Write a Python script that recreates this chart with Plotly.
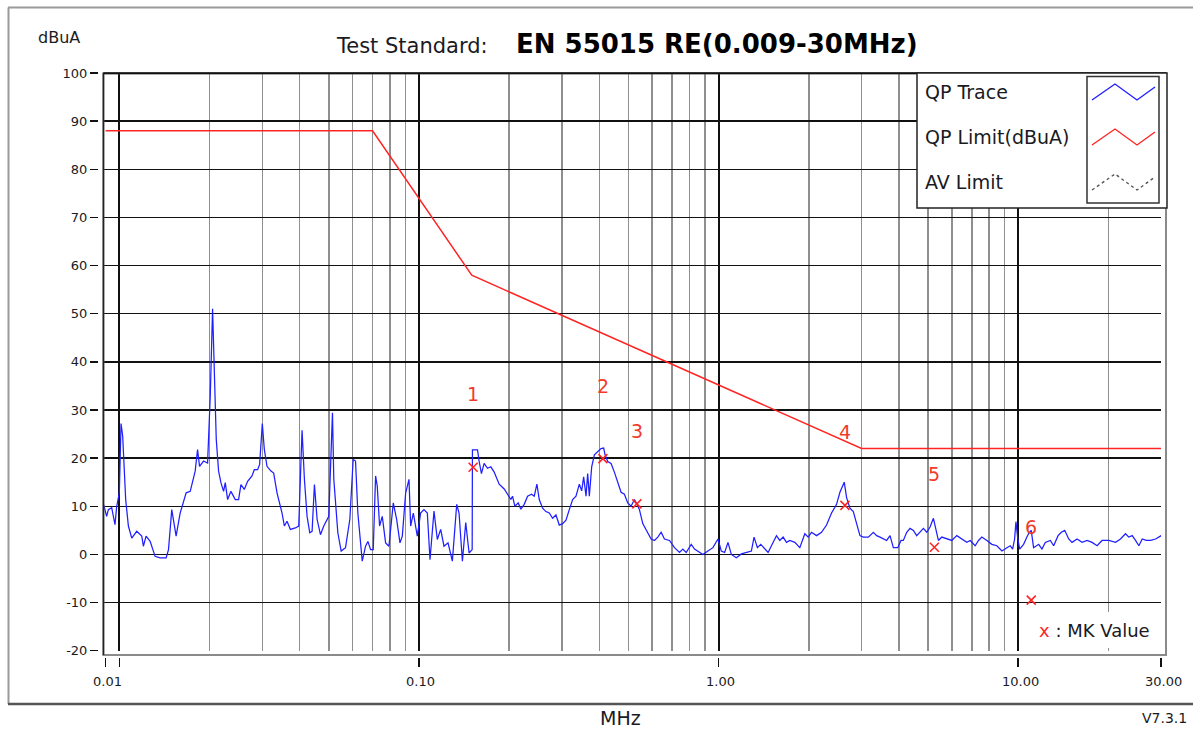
import numpy as np
import plotly.graph_objects as go

# ---------------- data ----------------
# QP trace, band A (9 kHz - 150 kHz)
qp_freq_a = [0.00884, 0.00907, 0.00919, 0.00943, 0.00967, 0.00980, 0.01000, 0.01013, 0.01026, 0.01037,
             0.01050, 0.01072, 0.01100, 0.01143, 0.01188, 0.01203, 0.01228, 0.01267, 0.01316, 0.01368,
             0.01433, 0.01459, 0.01496, 0.01547, 0.01596, 0.01671, 0.01724, 0.01791, 0.01824, 0.01852,
             0.01910, 0.01970, 0.02011, 0.02047, 0.02074, 0.02106, 0.02144, 0.02183, 0.02228, 0.02257,
             0.02298, 0.02357, 0.02437, 0.02500, 0.02546, 0.02612, 0.02680, 0.02771, 0.02821, 0.02894,
             0.02939, 0.03000, 0.03047, 0.03110, 0.03207, 0.03274, 0.03359, 0.03491, 0.03554, 0.03628,
             0.03723, 0.03868, 0.03969, 0.04020, 0.04072, 0.04146, 0.04232, 0.04320, 0.04398, 0.04478,
             0.04571, 0.04690, 0.04811, 0.05000, 0.05065, 0.05144, 0.05197, 0.05360, 0.05499, 0.05686,
             0.05879, 0.06031, 0.06141, 0.06252, 0.06465, 0.06633, 0.06753, 0.06894, 0.07037, 0.07164,
             0.07257, 0.07388, 0.07542, 0.07738, 0.07939, 0.08209, 0.08422, 0.08641, 0.08798, 0.09027,
             0.09261, 0.09381, 0.09575, 0.09873, 0.10129, 0.10392, 0.10663, 0.10884, 0.11223, 0.11515,
             0.11814, 0.12121, 0.12501, 0.12925, 0.13364, 0.13606, 0.13961, 0.14324, 0.14696, 0.1505]
qp_level_a = [10.6, 7.9, 9.3, 9.7, 6.2, 10.0, 12.8, 27.2, 24.6, 18.3,
              11.4, 5.9, 3.4, 4.8, 3.8, 1.7, 3.8, 2.7, -0.4, -0.7,
              -0.7, 1.0, 9.3, 3.8, 8.6, 12.8, 13.1, 17.3, 21.8, 18.3,
              19.4, 19.0, 32.9, 51.0, 36.3, 23.9, 17.3, 14.9, 13.1, 14.9,
              11.4, 13.1, 11.4, 11.4, 14.5, 13.5, 15.2, 16.3, 17.6, 17.6,
              18.7, 27.2, 21.8, 18.3, 17.3, 16.9, 12.8, 8.6, 5.9, 6.9,
              5.2, 5.5, 5.9, 15.6, 25.8, 15.6, 7.9, 4.5, 4.8, 14.5,
              7.3, 4.1, 5.9, 7.9, 19.0, 29.4, 15.6, 4.5, 0.7, 1.4,
              7.3, 19.7, 19.4, 8.6, -1.4, 1.7, 2.7, 1.0, 1.0, 16.3,
              14.2, 5.9, 7.9, 2.4, 1.7, 10.7, 7.3, 2.4, 3.8, 12.8,
              15.6, 5.9, 8.6, 3.8, 8.6, 9.3, 8.6, -1.1, 9.0, 3.1,
              5.2, 1.7, 2.4, -1.4, 10.4, 8.6, -1.4, 6.6, 0.3, 1.0]

# QP trace, band B (150 kHz - 3 MHz)
qp_freq_b = [0.1508, 0.1568, 0.1588, 0.1616, 0.1650, 0.1693, 0.1737, 0.1782, 0.1852, 0.1925,
             0.1975, 0.2026, 0.2052, 0.2090, 0.2144, 0.2188, 0.2245, 0.2304, 0.2376, 0.2425,
             0.2475, 0.2520, 0.2586, 0.2653, 0.2722, 0.2793, 0.2865, 0.2940, 0.3016, 0.3095,
             0.3175, 0.3257, 0.3342, 0.3429, 0.3491, 0.3545, 0.3610, 0.3656, 0.3703, 0.3771,
             0.3849, 0.3949, 0.4051, 0.4135, 0.4178, 0.4265, 0.4376, 0.4489, 0.4606, 0.4726,
             0.4848, 0.4974, 0.5104, 0.5236, 0.5345, 0.5442, 0.5583, 0.5728, 0.5953, 0.6108,
             0.6267, 0.6429, 0.6596, 0.6856, 0.7125, 0.7405, 0.7597, 0.7795, 0.8101, 0.8311,
             0.8527, 0.8862, 0.9210, 0.9572, 0.9951, 1.0210, 1.0475, 1.0748, 1.1027, 1.1460,
             1.1910, 1.2378, 1.2864, 1.3131, 1.3473, 1.3824, 1.4257, 1.4628, 1.5008, 1.5597,
             1.6003, 1.6419, 1.6846, 1.7284, 1.7962, 1.8667, 1.9399, 1.9904, 2.0421, 2.1224,
             2.2056, 2.2922, 2.3822, 2.4757, 2.540, 2.606, 2.626, 2.674, 2.744, 2.815,
             2.888, 2.963]
qp_level_b = [21.7, 21.7, 19.3, 16.8, 18.9, 17.9, 18.2, 17.1, 14.6, 13.6,
              12.5, 11.4, 12.1, 10.0, 10.7, 9.4, 10.4, 12.1, 12.5, 12.1,
              14.6, 11.4, 9.6, 8.9, 8.6, 7.5, 8.2, 6.1, 6.4, 7.1,
              9.3, 11.4, 12.1, 14.6, 13.2, 16.1, 12.1, 16.8, 12.1, 18.2,
              20.7, 21.3, 22.0, 22.1, 20.7, 19.3, 18.9, 17.1, 15.0, 12.9,
              12.5, 10.7, 10.0, 11.4, 10.4, 9.3, 6.4, 5.0, 3.2, 2.9,
              3.6, 4.6, 3.2, 2.9, 1.4, 0.4, 1.1, 0.4, 2.1, 1.1,
              0.7, 0.0, 0.7, 1.4, 3.2, 0.7, 0.4, 2.5, 0.0, -0.7,
              0.1, 0.4, 0.7, 3.6, 1.4, 2.1, 1.1, 0.4, 1.8, 3.9,
              2.9, 3.6, 2.5, 2.9, 2.5, 1.4, 4.3, 3.6, 4.6, 3.9,
              4.6, 6.1, 8.6, 10.4, 12.9, 14.6, 15.0, 11.8, 9.6, 8.9,
              6.4, 3.9]

# QP trace, band C (3 MHz - 30 MHz)
qp_freq_c = [3.041, 3.160, 3.284, 3.369, 3.457, 3.546, 3.638, 3.733, 3.830, 3.960,
             4.063, 4.136, 4.244, 4.354, 4.467, 4.583, 4.702, 4.824, 4.950, 5.078,
             5.210, 5.305, 5.415, 5.556, 5.774, 6.001, 6.236, 6.481, 6.736, 6.911,
             7.182, 7.369, 7.561, 7.858, 8.166, 8.487, 8.820, 9.167, 9.405, 9.576,
             9.725, 9.825, 9.951, 10.11, 10.42, 10.69, 10.89, 11.05, 11.25, 11.70,
             12.00, 12.31, 12.80, 13.13, 13.58, 13.93, 14.29, 14.74, 15.12, 15.72,
             16.33, 16.97, 17.64, 18.33, 19.05, 20.06, 21.12, 21.94, 22.80, 23.39,
             24.00, 24.63, 25.27, 25.93, 26.74, 27.65, 28.73, 30.00]
qp_level_c = [3.6, 3.6, 4.6, 3.9, 3.6, 3.2, 2.9, 3.9, 1.4, 1.4,
              2.9, 2.9, 4.6, 5.4, 5.0, 3.9, 4.6, 5.4, 4.6, 5.7,
              7.5, 5.4, 2.9, 3.6, 3.2, 2.9, 3.9, 3.2, 2.5, 2.9,
              1.8, 2.9, 3.6, 2.9, 2.1, 1.8, 0.7, 1.4, 1.8, 1.1,
              3.2, 6.8, 3.6, 1.1, 2.1, 3.6, 4.6, 5.0, 1.4, 2.1,
              1.1, 2.5, 2.9, 1.8, 3.9, 4.6, 5.0, 3.2, 2.5, 3.2,
              2.5, 2.9, 2.5, 1.8, 2.9, 2.9, 2.5, 3.2, 4.3, 3.6,
              3.9, 2.9, 1.8, 3.2, 2.9, 2.9, 3.2, 3.9]

# QP limit (EN 55015 loop antenna)
limit_freq = [0.009, 0.07, 0.15, 3.0, 30.0]
limit_level = [88.0, 88.0, 58.0, 22.0, 22.0]

# markers
mk_freq = [0.1516, 0.411, 0.5335, 2.64, 5.25, 11.05]
mk_level = [18.1, 19.9, 10.5, 10.2, 1.5, -9.5]
mk_label = ["1", "2", "3", "4", "5", "6"]

# axes
x_range_mhz = [0.00884, 30.0]
y_range = [-20, 100]
x_tick_vals = [0.01, 0.1, 1.0, 10.0, 30.0]
x_tick_text = ["0.01", "0.10", "1.00", "10.00", "30.00"]
x_tick_marks = [0.009, 0.01, 0.1, 1.0, 10.0, 30.0]
x_major_grid = [0.01, 0.1, 1.0, 10.0]
x_minor_grid = [0.02, 0.03, 0.04, 0.05, 0.06, 0.07, 0.08, 0.09,
                0.2, 0.3, 0.4, 0.5, 0.6, 0.7, 0.8, 0.9,
                2, 3, 4, 5, 6, 7, 8, 9, 20]
y_tick_vals = [-20, -10, 0, 10, 20, 30, 40, 50, 60, 70, 80, 90, 100]

legend_names = ["QP Trace", "QP Limit(dBuA)", "AV Limit"]

# ---------------- layout helpers ----------------
W, H = 1193, 729
ML, MR, MT, MB = 98, 27, 73, 72
PW, PH = W - ML - MR, H - MT - MB


def px_x(p):
    return (p - ML) / PW


def px_y(p):
    return (H - MB - p) / PH


FONT = "DejaVu Sans"
TXT = "#1a1a22"
BLUE = "#1f1fff"
RED = "#ff2424"

qp_freq = qp_freq_a + qp_freq_b + qp_freq_c
qp_level = qp_level_a + qp_level_b + qp_level_c

fig = go.Figure()
fig.add_trace(go.Scatter(x=qp_freq, y=qp_level, mode="lines",
                         line=dict(color=BLUE, width=1.25), xaxis="x", yaxis="y",
                         hoverinfo="skip", showlegend=False))
fig.add_trace(go.Scatter(x=limit_freq, y=limit_level, mode="lines",
                         line=dict(color=RED, width=1.5), xaxis="x2", yaxis="y",
                         showlegend=False))
fig.add_trace(go.Scatter(x=mk_freq, y=mk_level, mode="markers",
                         marker=dict(symbol="x-thin", size=9,
                                     line=dict(color=RED, width=1.6)),
                         xaxis="x2", yaxis="y", showlegend=False))

xr = [np.log10(x_range_mhz[0]), np.log10(x_range_mhz[1])]
xdom = [px_x(103.3), px_x(1161.2)]
ydom = [px_y(650.7), 1.0]

fig.update_layout(
    width=W, height=H, margin=dict(l=ML, r=MR, t=MT, b=MB, autoexpand=False),
    paper_bgcolor="white", plot_bgcolor="white", showlegend=False,
    xaxis=dict(type="log", range=xr, domain=xdom, anchor="y",
               tickmode="array", tickvals=x_major_grid, showticklabels=False, ticks="",
               showgrid=True, gridcolor="#111111", gridwidth=2,
               minor=dict(tickmode="array", tickvals=x_minor_grid, showgrid=True,
                          gridcolor="#8f8f8f", gridwidth=1.5, ticks=""),
               zeroline=False, showline=False),
    xaxis2=dict(type="log", range=xr, domain=xdom, overlaying="x", anchor="free", position=0,
                tickmode="array", tickvals=x_tick_marks, showticklabels=False,
                ticks="outside", ticklen=9, tickwidth=1.5, tickcolor="#111111",
                showgrid=False, zeroline=False, showline=False),
    yaxis=dict(range=y_range, domain=ydom, anchor="free", position=0,
               tickmode="array", tickvals=y_tick_vals,
               ticktext=[str(v) for v in y_tick_vals],
               ticks="outside", ticklen=8, tickwidth=1.5, tickcolor="#111111",
               tickfont=dict(family=FONT, size=13, color=TXT),
               showgrid=True, gridcolor="#111111", gridwidth=1.5,
               zeroline=False, showline=False),
)

shapes = []
# plot frame
shapes.append(dict(type="rect", xref="paper", yref="paper",
                   x0=px_x(103.3), x1=px_x(1166), y0=px_y(655), y1=px_y(73.3),
                   line=dict(color="#8a8a8a", width=2), layer="above"))
shapes.append(dict(type="line", xref="paper", yref="paper",
                   x0=px_x(103.5), x1=px_x(103.5), y0=px_y(655), y1=px_y(73.3),
                   line=dict(color="#222222", width=1.5), layer="above"))
shapes.append(dict(type="line", xref="paper", yref="paper",
                   x0=px_x(103.3), x1=px_x(1166), y0=px_y(73.3), y1=px_y(73.3),
                   line=dict(color="#111111", width=2), layer="above"))
# outer frame
shapes.append(dict(type="line", xref="paper", yref="paper",
                   x0=px_x(8), x1=px_x(1193), y0=px_y(7.5), y1=px_y(7.5),
                   line=dict(color="#9a9a9a", width=2)))
shapes.append(dict(type="line", xref="paper", yref="paper",
                   x0=px_x(8.5), x1=px_x(8.5), y0=px_y(7.5), y1=px_y(704),
                   line=dict(color="#9a9a9a", width=2)))
shapes.append(dict(type="line", xref="paper", yref="paper",
                   x0=px_x(8), x1=px_x(1193), y0=px_y(704), y1=px_y(704),
                   line=dict(color="#555555", width=2.5)))
# legend box
shapes.append(dict(type="rect", xref="paper", yref="paper",
                   x0=px_x(917), x1=px_x(1167), y0=px_y(208), y1=px_y(73),
                   fillcolor="white", line=dict(color="#222222", width=1.5), layer="above"))
shapes.append(dict(type="rect", xref="paper", yref="paper",
                   x0=px_x(1087), x1=px_x(1159), y0=px_y(203), y1=px_y(76.5),
                   line=dict(color="#333333", width=1.5), layer="above"))


def zigzag(yc):
    pts = [(1092, yc + 8), (1115, yc - 8), (1137, yc + 8), (1155, yc - 5)]
    return "M " + " L ".join(f"{px_x(a):.5f},{px_y(b):.5f}" for a, b in pts)


sample_styles = [dict(color=BLUE, width=1.4, dash="solid"),
                 dict(color=RED, width=1.4, dash="solid"),
                 dict(color="#555555", width=1.4, dash="dot")]
legend_y = [92, 137, 182]
for yc, st in zip(legend_y, sample_styles):
    shapes.append(dict(type="path", xref="paper", yref="paper", path=zigzag(yc),
                       line=st, layer="above"))
# MK value box
shapes.append(dict(type="rect", xref="paper", yref="paper",
                   x0=px_x(1030), x1=px_x(1160), y0=px_y(648), y1=px_y(612),
                   fillcolor="white", line=dict(width=0), layer="above"))
fig.update_layout(shapes=shapes)

ann = []
for name, yc in zip(legend_names, legend_y):
    ann.append(dict(text=name, xref="paper", yref="paper", x=px_x(923), y=px_y(yc),
                    xanchor="left", yanchor="middle", showarrow=False,
                    font=dict(family=FONT, size=19, color=TXT)))
ann.append(dict(text=f"<span style='color:{RED}'>x</span> : MK Value",
                xref="paper", yref="paper", x=px_x(1037), y=px_y(630),
                xanchor="left", yanchor="middle", showarrow=False,
                font=dict(family=FONT, size=18, color=TXT)))
# x tick labels
x_label_shift = [-12, 2, 2, 2, 2]
for v, t, s in zip(x_tick_vals, x_tick_text, x_label_shift):
    ann.append(dict(text=t, xref="x", yref="paper", x=np.log10(v), y=px_y(681),
                    xanchor="center", yanchor="middle", xshift=s, showarrow=False,
                    font=dict(family=FONT, size=13, color=TXT)))
# marker labels
for f, lv, lb in zip(mk_freq, mk_level, mk_label):
    ann.append(dict(text=lb, xref="x", yref="y", x=np.log10(f), y=lv,
                    xanchor="center", yanchor="middle", yshift=73, showarrow=False,
                    font=dict(family=FONT, size=19, color="#f23a2a")))
# titles
ann.append(dict(text="dBuA", xref="paper", yref="paper", x=px_x(59), y=px_y(38),
                xanchor="center", yanchor="middle", showarrow=False,
                font=dict(family=FONT, size=16, color=TXT)))
ann.append(dict(text="Test Standard:", xref="paper", yref="paper", x=px_x(490), y=px_y(46),
                xanchor="right", yanchor="middle", showarrow=False,
                font=dict(family=FONT, size=21, color=TXT)))
ann.append(dict(text="<b>EN 55015 RE(0.009-30MHz)</b>", xref="paper", yref="paper",
                x=px_x(717), y=px_y(44), xanchor="center", yanchor="middle", showarrow=False,
                font=dict(family=FONT, size=26, color="#000000")))
ann.append(dict(text="MHz", xref="paper", yref="paper", x=px_x(620), y=px_y(718),
                xanchor="center", yanchor="middle", showarrow=False,
                font=dict(family=FONT, size=19, color=TXT)))
ann.append(dict(text="V7.3.1", xref="paper", yref="paper", x=px_x(1189), y=px_y(718),
                xanchor="right", yanchor="middle", showarrow=False,
                font=dict(family=FONT, size=14, color=TXT)))
fig.update_layout(annotations=ann)

fig.write_html("out.html",
               config={"displayModeBar": False, "staticPlot": True},
               post_script="document.body.style.margin='0';document.body.style.padding='0';"
                           "document.body.style.overflow='hidden';")
